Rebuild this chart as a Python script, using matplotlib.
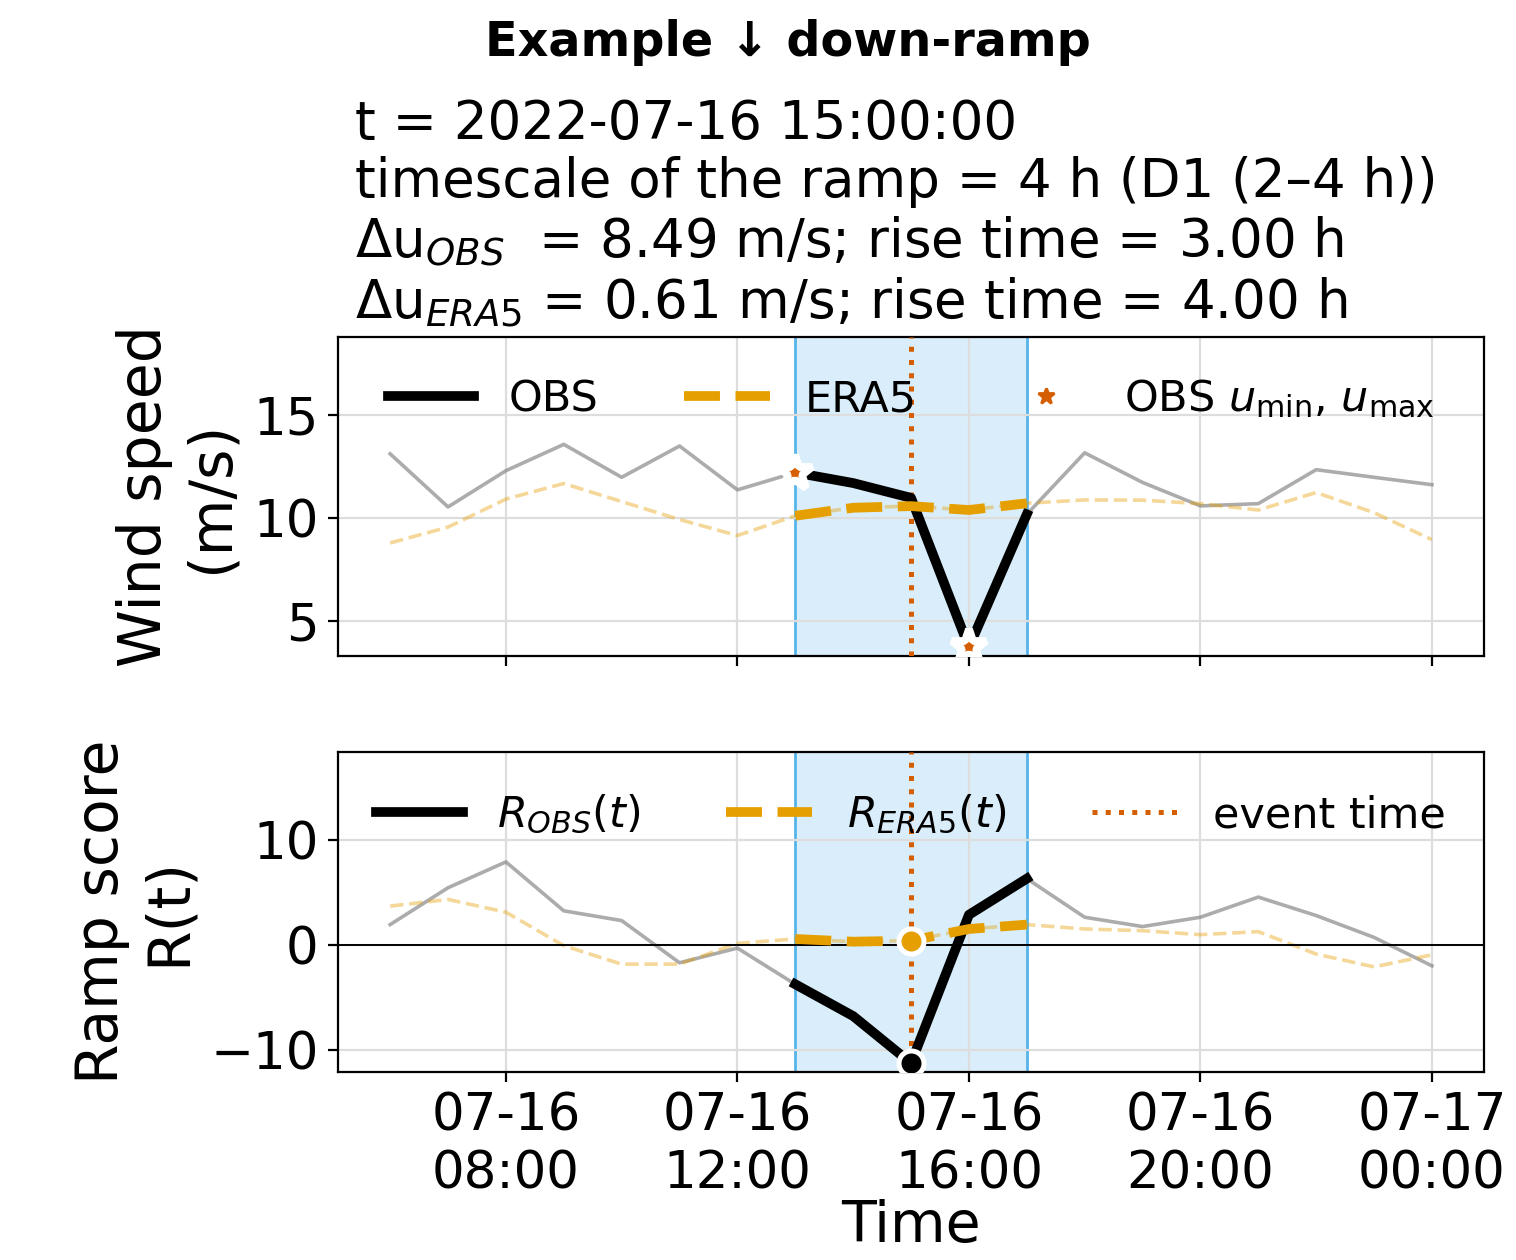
import numpy as np
import pandas as pd
import matplotlib
matplotlib.use("Agg")
import matplotlib.pyplot as plt
import matplotlib.dates as mdates
from matplotlib.lines import Line2D

# hourly data, 2022-07-16 06:00 -> 2022-07-17 00:00
times = pd.date_range("2022-07-16 06:00", "2022-07-17 00:00", freq="h")

u_obs = [13.12, 10.54, 12.30, 13.58, 11.98, 13.50, 11.37, 12.21, 11.70, 10.98,
         3.72, 10.18, 13.17, 11.73, 10.59, 10.70, 12.35, 11.98, 11.62]
u_era5 = [8.79, 9.56, 10.92, 11.68, 10.80, 9.93, 9.15, 10.11, 10.50, 10.58,
          10.39, 10.72, 10.88, 10.87, 10.70, 10.39, 11.24, 10.26, 8.95]

r_obs = [1.95, 5.46, 7.92, 3.26, 2.33, -1.69, -0.29, -3.74, -6.77, -11.25,
         2.88, 6.33, 2.65, 1.76, 2.65, 4.57, 2.81, 0.73, -1.98]
r_era5 = [3.71, 4.35, 3.13, -0.06, -1.82, -1.82, 0.16, 0.58, 0.32, 0.42,
          1.53, 1.95, 1.53, 1.37, 0.99, 1.28, -0.86, -2.08, -0.93]

event_time = pd.Timestamp("2022-07-16 15:00")
win_start = pd.Timestamp("2022-07-16 13:00")
win_end = pd.Timestamp("2022-07-16 17:00")
umax_time = pd.Timestamp("2022-07-16 13:00")
umin_time = pd.Timestamp("2022-07-16 16:00")

BLACK = "black"
ORANGE = "#E69F00"
VERMILION = "#D55E00"
SKY = "#56B4E9"


def draw_panel(ax, obs, era5, mask):
    # faded context lines over the whole period
    ax.plot(times, obs, color="gray", lw=1.3, alpha=0.65)
    ax.plot(times, era5, color=ORANGE, lw=1.3, ls="--", alpha=0.4)
    # highlighted ramp window
    ax.plot(times[mask], np.array(obs)[mask], color=BLACK, lw=3.5, zorder=4)
    ax.plot(times[mask], np.array(era5)[mask], color=ORANGE, lw=3.5, ls="--", zorder=4)
    ax.axvspan(win_start, win_end, facecolor=SKY, alpha=0.22, zorder=0)
    ax.axvline(win_start, color=SKY, lw=1.0, zorder=1)
    ax.axvline(win_end, color=SKY, lw=1.0, zorder=1)
    ax.axvline(event_time, color=VERMILION, ls=":", lw=1.8, zorder=3)
    ax.grid(True, color="#dddddd", lw=0.8)
    ax.tick_params(labelsize=18.5)


def main():
    fig = plt.figure(figsize=(7.58, 6.3), dpi=200)
    ax1 = fig.add_axes([0.223, 0.4794, 0.7559, 0.2532])
    ax2 = fig.add_axes([0.223, 0.1492, 0.7559, 0.2540], sharex=ax1)

    mask = (times >= win_start) & (times <= win_end)

    # wind speed
    draw_panel(ax1, u_obs, u_era5, mask)
    i_max = list(times).index(umax_time)
    i_min = list(times).index(umin_time)
    ax1.plot([umax_time, umin_time], [u_obs[i_max], u_obs[i_min]], ls="none",
             marker="*", ms=13, color=VERMILION, mec="white", mew=2.8, zorder=6)
    ax1.set_ylim(3.3, 18.8)
    ax1.set_yticks([5, 10, 15])
    ax1.set_ylabel("Wind speed\n(m/s)", fontsize=21, labelpad=5)
    ax1.tick_params(labelbottom=False)
    h1 = [Line2D([], [], color=BLACK, lw=3.5),
          Line2D([], [], color=ORANGE, lw=3.5, ls="--"),
          Line2D([], [], color=VERMILION, ls="none", marker="*", ms=6)]
    ax1.legend(h1, ["OBS", "ERA5", r"OBS $u_{\min}$, $u_{\max}$"], loc="upper center",
               ncol=3, frameon=False, fontsize=15.5, borderaxespad=0.55)

    # ramp score
    draw_panel(ax2, r_obs, r_era5, mask)
    ax2.axhline(0, color="black", lw=0.7, zorder=2)
    i_ev = list(times).index(event_time)
    ax2.plot(event_time, r_obs[i_ev], "o", color=BLACK, ms=9, mec="white", mew=1.8, zorder=6)
    ax2.plot(event_time, r_era5[i_ev], "o", color=ORANGE, ms=9, mec="white", mew=1.8, zorder=6)
    ax2.set_ylim(-12.1, 18.4)
    ax2.set_yticks([-10, 0, 10])
    ax2.set_ylabel("Ramp score\nR(t)", fontsize=21, labelpad=5)
    ax2.set_xlabel("Time", fontsize=20.5, labelpad=0)
    h2 = [Line2D([], [], color=BLACK, lw=3.5),
          Line2D([], [], color=ORANGE, lw=3.5, ls="--"),
          Line2D([], [], color=VERMILION, lw=1.8, ls=":")]
    ax2.legend(h2, [r"$R_{OBS}(t)$", r"$R_{ERA5}(t)$", "event time"], loc="upper center",
               ncol=3, frameon=False, fontsize=15.5, borderaxespad=0.55)

    ax2.xaxis.set_major_locator(mdates.HourLocator(byhour=[0, 4, 8, 12, 16, 20]))
    ax2.xaxis.set_major_formatter(mdates.DateFormatter("%m-%d\n%H:%M"))
    ax2.set_xlim(times[0] - pd.Timedelta(hours=0.9), times[-1] + pd.Timedelta(hours=0.9))

    fig.text(0.52, 0.966, "Example \u2193 down-ramp", fontsize=17.2, fontweight="bold",
             ha="center", va="center")
    info = ("t = 2022-07-16 15:00:00\n"
            "timescale of the ramp = 4 h (D1 (2\u20134 h))\n"
            "\u0394u$_{OBS}$  = 8.49 m/s; rise time = 3.00 h\n"
            "\u0394u$_{ERA5}$ = 0.61 m/s; rise time = 4.00 h")
    fig.text(0.234, 0.738, info, fontsize=19.1, ha="left", va="bottom", linespacing=1.16)

    fig.savefig("out.png", dpi=200)


if __name__ == "__main__":
    main()
